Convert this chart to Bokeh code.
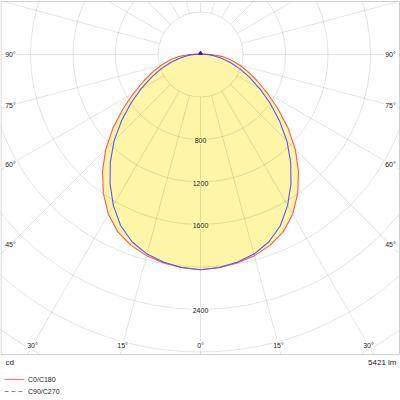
import numpy as np
from bokeh.plotting import figure
from bokeh.models import Range1d, Legend, LegendItem, ColumnDataSource
from bokeh.core.properties import value
from bokeh.embed import file_html
from bokeh.resources import INLINE

# ---------------- data ----------------
gamma_deg = list(range(0, 185, 5))
c0_c180 = [2026, 2014, 1992, 1960, 1912, 1842, 1735, 1595, 1435, 1262, 1075, 890,
           725, 590, 478, 380, 290, 200, 100, 40, 25, 20, 18, 16, 15, 14, 13, 12,
           12, 12, 12, 12, 12, 12, 12, 12, 12]
c90_c270 = [2026, 2012, 1985, 1945, 1878, 1778, 1640, 1485, 1320, 1150, 970, 800,
            645, 510, 395, 290, 200, 125, 60, 25, 15, 14, 13, 12, 12, 12, 11, 11,
            11, 11, 11, 11, 11, 11, 11, 11, 11]
series_names = ["C0/C180", "C90/C270"]
ring_values = [400, 800, 1200, 1600, 2000, 2400, 2800, 3200, 3600]
ring_label_values = [800, 1200, 1600, 2400]
angle_ticks = [0, 15, 30, 45, 60, 75, 90]
spoke_angles = list(range(0, 360, 15))
unit_text = "cd"
flux_text = "5421 lm"

# ---------------- layout / style ----------------
W = H = 400
S = 0.10625           # px per cd
CX, CY = 200.0, 54.0  # polar origin in canvas px


def dx(px):
    return (px - CX) / S


def dy(py):
    return (CY - py) / S


FONT = "Liberation Sans"
TXT = "#222222"
RED = "#FF5555"
BLUE = "#5555FF"
YELLOW = "#FEF6A6"
GRID = "#000000"

p = figure(width=W, height=H, x_range=Range1d(dx(0), dx(W)),
           y_range=Range1d(dy(H), dy(0)), toolbar_location=None,
           output_backend="svg", min_border=0, x_axis_type=None,
           y_axis_type=None, outline_line_color=None)
p.background_fill_color = "white"
p.border_fill_color = "white"

g = np.radians(np.array(gamma_deg, dtype=float))


def outline(vals):
    I = np.array(vals, dtype=float)
    xr = I * np.sin(g)
    yr = -I * np.cos(g)
    return np.concatenate([xr, -xr[::-1]]), np.concatenate([yr, yr[::-1]])


# fill of the envelope
env = np.maximum(np.array(c0_c180), np.array(c90_c270))
fx, fy = outline(env)
p.patch(fx, fy, fill_color=YELLOW, line_color=None)

# grid rings
p.circle(x=[0] * len(ring_values), y=[0] * len(ring_values), radius=ring_values,
         fill_color=None, line_color=GRID, line_alpha=0.11, line_width=1)

# spokes from the first ring to the frame
fl, fr, ft, fb = dx(0.5), dx(399), dy(1), dy(354)
x0s, y0s, x1s, y1s = [], [], [], []
for a in spoke_angles:
    ar = np.radians(a)
    sx, sy = np.sin(ar), -np.cos(ar)
    ts = []
    if sx > 1e-9:
        ts.append(fr / sx)
    if sx < -1e-9:
        ts.append(fl / sx)
    if sy < -1e-9:
        ts.append(fb / sy)
    if sy > 1e-9:
        ts.append(ft / sy)
    t = min(ts)
    r0 = ring_values[0]
    x0s.append(r0 * sx); y0s.append(r0 * sy)
    x1s.append(t * sx); y1s.append(t * sy)
p.segment(x0=x0s, y0=y0s, x1=x1s, y1=y1s, line_color=GRID, line_alpha=0.11,
          line_width=1)

# curves
rx, ry = outline(c0_c180)
bx, by = outline(c90_c270)
p.line(rx, ry, line_color=RED, line_width=1.1)
p.line(bx, by, line_color=BLUE, line_width=1.1)
p.scatter(x=[bx[len(gamma_deg) - 1]], y=[by[len(gamma_deg) - 1]], marker="triangle",
          size=4, color="#2222CC")

# ring labels
ring_bg = [YELLOW if v < env[0] else "white" for v in ring_label_values]
rsrc = ColumnDataSource(dict(x=[0] * len(ring_label_values),
                             y=[-v for v in ring_label_values],
                             t=[str(v) for v in ring_label_values], bg=ring_bg))
p.text(x="x", y="y", text="t", source=rsrc, text_align="center",
       text_baseline="middle", text_font=value(FONT), text_font_size="7px",
       text_color=TXT, background_fill_color="bg", padding=1, y_offset=1)

# angle labels (centred where each spoke crosses an inset of the frame)
xl_in, xr_in = dx(10), dx(390)
yb_in = dy(345)
ax, ay, at = [], [], []
for a in angle_ticks:
    ar = np.radians(a)
    sides = [1] if a == 0 else [1, -1]
    for sgn in sides:
        sx, sy = sgn * np.sin(ar), -np.cos(ar)
        if sx > 1e-9:
            t_side = xr_in / sx
        elif sx < -1e-9:
            t_side = xl_in / sx
        else:
            t_side = np.inf
        t_bot = yb_in / sy if sy < -1e-9 else np.inf
        t = min(t_side, t_bot)
        ax.append(t * sx)
        ay.append(t * sy)
        at.append(f"{a}°")
asrc = ColumnDataSource(dict(x=ax, y=ay, t=at))
p.text(x="x", y="y", text="t", text_align="center", source=asrc,
       text_baseline="middle", text_font=value(FONT), text_font_size="7px",
       text_color=TXT, background_fill_color="white", padding=1)

# area below frame
p.quad(left=dx(0) - 2000, right=dx(W) + 2000, top=fb, bottom=dy(H) - 2000,
       fill_color="white", line_color=None)
# frame
p.quad(left=fl, right=fr, top=ft, bottom=fb, fill_color=None,
       line_color="#D0D0D0", line_width=1)

# footer texts
p.text(x=[dx(5)], y=[dy(362)], text=[unit_text], text_align="left",
       text_baseline="middle", text_font=value(FONT), text_font_size="8px",
       text_color=TXT)
p.text(x=[dx(396)], y=[dy(362)], text=[flux_text], text_align="right",
       text_baseline="middle", text_font=value(FONT), text_font_size="8px",
       text_color=TXT)

# legend
nan = [float("nan")]
l1 = p.line(x=nan, y=nan, line_color="#FF7777", line_width=1.2)
l2 = p.line(x=nan, y=nan, line_color="#7777FF", line_width=1.2, line_dash="4 3")
legend = Legend(items=[LegendItem(label=series_names[0], renderers=[l1]),
                       LegendItem(label=series_names[1], renderers=[l2])],
                location=(4, 3), orientation="vertical", glyph_width=20,
                glyph_height=12, label_height=12, spacing=0, padding=0,
                margin=0, label_standoff=4, label_text_font_size="7px",
                label_text_font=FONT, label_text_color=TXT,
                background_fill_alpha=0, border_line_alpha=0)
p.add_layout(legend)

open("out.html", "w").write(file_html(p, INLINE))
